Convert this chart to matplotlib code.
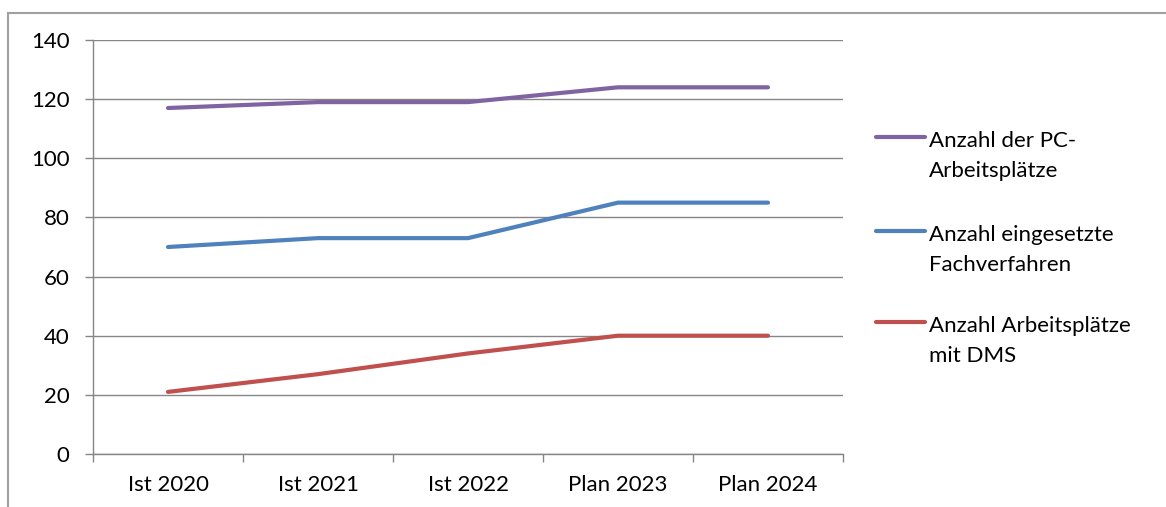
import matplotlib
matplotlib.use("Agg")
import matplotlib.pyplot as plt
from matplotlib.lines import Line2D
import numpy as np

categories = ["Ist 2020", "Ist 2021", "Ist 2022", "Plan 2023", "Plan 2024"]
pc_arbeitsplaetze = [117, 119, 119, 124, 124]
fachverfahren = [70, 73, 73, 85, 85]
dms_arbeitsplaetze = [21, 27, 34, 40, 40]
series_labels = [["Anzahl der PC-", "Arbeitsplätze"],
                 ["Anzahl eingesetzte", "Fachverfahren"],
                 ["Anzahl Arbeitsplätze", "mit DMS"]]
series_colors = ["#8064A2", "#4F81BD", "#C0504D"]
y_ticks = [0, 20, 40, 60, 80, 100, 120, 140]

plt.rcParams['font.family'] = ['Lato', 'DejaVu Sans']

W, H = 1166, 507
fig = plt.figure(figsize=(W / 100, H / 100), dpi=100)

def fx(px):
    return px / W

def fy(py):
    return 1 - py / H

ax = fig.add_axes([fx(93), fy(454), fx(843) - fx(93), fy(40) - fy(454)])

x = np.arange(len(categories))
for vals, col in zip([pc_arbeitsplaetze, fachverfahren, dms_arbeitsplaetze], series_colors):
    ax.plot(x, vals, color=col, linewidth=3.0, solid_capstyle='round', zorder=3)

FS = 16
ax.set_xlim(-0.5, len(categories) - 0.5)
ax.set_ylim(0, 140)
ax.set_yticks(y_ticks)
ax.set_yticklabels([str(v) for v in y_ticks], fontsize=FS)
ax.yaxis.grid(True, color="#868686", linewidth=1.0)
ax.set_axisbelow(True)

ax.set_xticks(np.arange(-0.5, len(categories), 1.0))
ax.set_xticklabels([])
ax.set_xticks(x, minor=True)
ax.set_xticklabels(categories, minor=True, fontsize=FS)
ax.tick_params(axis='x', which='minor', length=0, pad=15)
ax.tick_params(axis='x', which='major', length=6, color="#868686", width=1.0, direction='out')
ax.tick_params(axis='y', length=6, color="#868686", width=1.0, pad=11)

for s in ["top", "right"]:
    ax.spines[s].set_visible(False)
for s in ["left", "bottom"]:
    ax.spines[s].set_color("#868686")
    ax.spines[s].set_linewidth(1.0)

# legend drawn manually (handle aligned with first text line, as in the original)
legend_handle_y = [137, 231, 322]
for lines, col, ly in zip(series_labels, series_colors, legend_handle_y):
    fig.add_artist(Line2D([fx(876), fx(925)], [fy(ly), fy(ly)], color=col,
                          linewidth=3.0, solid_capstyle='round'))
    for i, ln in enumerate(lines):
        fig.text(fx(929), fy(ly + 10 + 30 * i), ln, fontsize=FS, va='baseline', ha='left')

# outer border (partially cropped)
fig.add_artist(Line2D([fx(8), 1], [fy(13), fy(13)], color="#A0A0A0", linewidth=1.5))
fig.add_artist(Line2D([fx(8), fx(8)], [fy(13), 0], color="#A0A0A0", linewidth=1.5))

fig.savefig("out.png", dpi=100)
